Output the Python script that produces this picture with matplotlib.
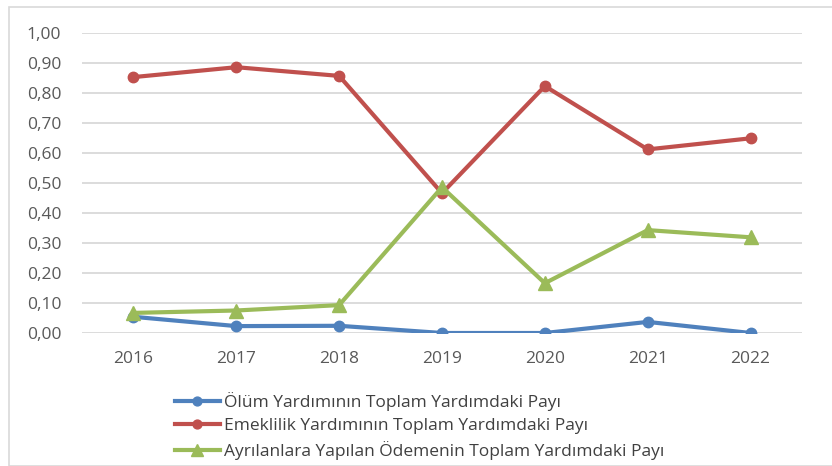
import matplotlib.pyplot as plt
from matplotlib.patches import Rectangle
from matplotlib.ticker import FuncFormatter

years = ['2016', '2017', '2018', '2019', '2020', '2021', '2022']
olum = [0.054, 0.023, 0.024, 0.0, 0.0, 0.037, 0.0]
emeklilik = [0.853, 0.886, 0.857, 0.466, 0.823, 0.612, 0.649]
ayrilan = [0.067, 0.075, 0.093, 0.486, 0.166, 0.343, 0.319]

labels = ['Ölüm Yardımının Toplam Yardımdaki Payı',
          'Emeklilik Yardımının Toplam Yardımdaki Payı',
          'Ayrılanlara Yapılan Ödemenin Toplam Yardımdaki Payı']

plt.rcParams['font.family'] = ['Open Sans', 'DejaVu Sans']

fig = plt.figure(figsize=(8.32, 4.66), dpi=100)
ax = fig.add_axes([82 / 832, 1 - 333 / 466, 720 / 832, 300 / 466])

x = range(len(years))
ax.plot(x, olum, color='#4f81bd', lw=3, marker='o', ms=7.5, label=labels[0], zorder=3)
ax.plot(x, emeklilik, color='#c0504d', lw=3, marker='o', ms=7.5, label=labels[1], zorder=3)
ax.plot(x, ayrilan, color='#9bbb59', lw=3, marker='^', ms=10, label=labels[2], zorder=4)

ax.set_xlim(-0.5, 6.5)
ax.set_ylim(0, 1.0)
ax.set_yticks([i / 10 for i in range(11)])
ax.yaxis.set_major_formatter(FuncFormatter(lambda v, p: f'{v:.2f}'.replace('.', ',')))
ax.set_xticks(list(x))
ax.set_xticklabels(years)
ax.grid(axis='y', color='#d9d9d9', lw=1.3)
ax.set_axisbelow(True)
for s in ax.spines.values():
    s.set_visible(False)
ax.tick_params(length=0, labelsize=12.5, colors='#595959')
ax.tick_params(axis='y', pad=15)
ax.tick_params(axis='x', pad=13)

leg = fig.legend(loc='upper left', bbox_to_anchor=(166 / 832, 1 - 383 / 466), frameon=False,
                 fontsize=12.5, handlelength=2.6, labelspacing=0.42, handletextpad=0.25,
                 labelcolor='#404040', borderpad=0, markerscale=0.85)

fig.patches.append(Rectangle((9 / 832, 0), 1, 1 - 7 / 466, transform=fig.transFigure,
                             fill=False, edgecolor='#d9d9d9', lw=1.2))

fig.savefig('out.png', dpi=100)
